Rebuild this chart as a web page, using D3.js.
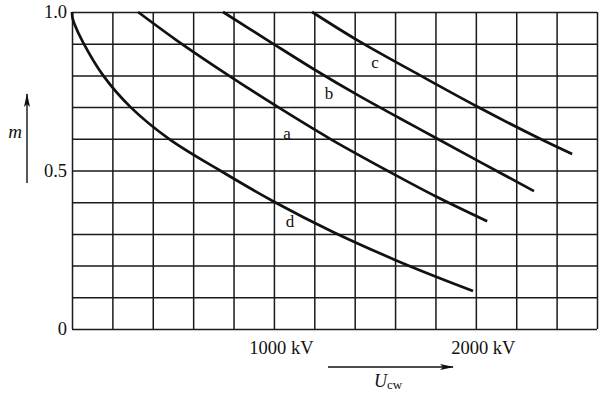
<!DOCTYPE html>
<html>
<head>
<meta charset="utf-8">
<script src="https://cdn.jsdelivr.net/npm/d3@7"></script>
<style>
  body { margin: 0; background: #fff; }
  svg { display: block; font-family: "Liberation Serif", "Times New Roman", serif; }
  .grid line { stroke: #1a1a1a; stroke-width: 1.5; }
  .grid path { display: none; }
  .curve { fill: none; stroke: #111; stroke-width: 2.7; }
</style>
</head>
<body>
<div id="chart"></div>
<script>
// curves: [U_cw in kV, m]
const curveA = [[327, 1.0], [520, 0.91], [773, 0.801], [1015, 0.702], [1278, 0.60], [1575, 0.495],
  [1803, 0.418], [2056, 0.34]];
const curveB = [[748, 1.0], [981, 0.906], [1204, 0.817], [1420, 0.736], [1625, 0.664], [1798, 0.604],
  [2006, 0.532], [2288, 0.435]];
const curveC = [[1189, 1.0], [1421, 0.908], [1724, 0.80], [2006, 0.702], [2318, 0.60], [2477, 0.552]];
const curveD = [[0, 1.0], [3, 0.98], [12, 0.962], [54, 0.905], [154, 0.80], [290, 0.70], [480, 0.60],
  [733, 0.50], [1005, 0.40], [1290, 0.307], [1600, 0.218], [1803, 0.165], [1986, 0.12]];

const curveNames = ["a", "b", "c", "d"];
const labelPos = [[1065, 0.618], [1273, 0.744], [1501, 0.842], [1080, 0.338]];

const xTicks = [1000, 2000];
const xTickLabels = ["1000 kV", "2000 kV"];
const yTicks = [0, 0.5, 1.0];
const yTickLabels = ["0", "0.5", "1.0"];

const margin = {top: 12, right: 3, bottom: 65, left: 72};
const width = 600 - margin.left - margin.right;
const height = 394 - margin.top - margin.bottom;

const svg = d3.select("#chart")
    .append("svg")
    .attr("width", 600)
    .attr("height", 394);

const g = svg.append("g")
    .attr("transform", `translate(${margin.left},${margin.top})`);

const xScale = d3.scaleLinear().domain([0, 2600]).range([0, width]);
const yScale = d3.scaleLinear().domain([0, 1]).range([height, 0]);

// grid, every 200 kV and every 0.1
g.append("g")
    .attr("class", "grid")
    .attr("transform", `translate(0,${height})`)
    .call(d3.axisBottom(xScale).tickValues(d3.range(0, 2601, 200)).tickSize(-height).tickFormat(""));

g.append("g")
    .attr("class", "grid")
    .call(d3.axisLeft(yScale).tickValues(d3.range(0, 11).map(i => i / 10)).tickSize(-width).tickFormat(""));

// tick labels
const xAxis = g.append("g")
    .attr("transform", `translate(0,${height})`)
    .call(d3.axisBottom(xScale).tickValues(xTicks).tickSize(0).tickPadding(12)
        .tickFormat((d, i) => xTickLabels[i]));
xAxis.select(".domain").remove();
xAxis.selectAll("text")
    .attr("dx", 7)
    .style("font-size", "18.5px")
    .style("font-family", "Liberation Serif, serif")
    .attr("fill", "#111");

const yAxis = g.append("g")
    .call(d3.axisLeft(yScale).tickValues(yTicks).tickSize(0).tickPadding(5)
        .tickFormat((d, i) => yTickLabels[i]));
yAxis.select(".domain").remove();
yAxis.selectAll("text")
    .style("font-size", "18.5px")
    .style("font-family", "Liberation Serif, serif")
    .attr("fill", "#111");

// curves
const line = d3.line()
    .x(d => xScale(d[0]))
    .y(d => yScale(d[1]))
    .curve(d3.curveCatmullRom.alpha(0.5));

[curveA, curveB, curveC, curveD].forEach(c => {
    g.append("path")
        .datum(c)
        .attr("class", "curve")
        .attr("d", line);
});

g.selectAll(".clabel")
    .data(curveNames)
    .enter()
    .append("text")
    .attr("class", "clabel")
    .attr("x", (d, i) => xScale(labelPos[i][0]))
    .attr("y", (d, i) => yScale(labelPos[i][1]))
    .attr("text-anchor", "middle")
    .attr("dominant-baseline", "central")
    .style("font-size", "17px")
    .attr("fill", "#111")
    .text(d => d);

// axis arrows and titles
const defs = svg.append("defs");
defs.append("marker")
    .attr("id", "arrow")
    .attr("viewBox", "0 0 14 6")
    .attr("refX", 13)
    .attr("refY", 3)
    .attr("markerWidth", 14)
    .attr("markerHeight", 6)
    .attr("markerUnits", "userSpaceOnUse")
    .attr("orient", "auto")
    .append("path")
    .attr("d", "M0,0 L14,3 L0,6 L3,3 Z")
    .attr("fill", "#111");

svg.append("line")
    .attr("x1", 328).attr("y1", 367)
    .attr("x2", 453).attr("y2", 367)
    .attr("stroke", "#111").attr("stroke-width", 1.4)
    .attr("marker-end", "url(#arrow)");

svg.append("line")
    .attr("x1", 27).attr("y1", 183)
    .attr("x2", 27).attr("y2", 94)
    .attr("stroke", "#111").attr("stroke-width", 1.4)
    .attr("marker-end", "url(#arrow)");

const ucw = svg.append("text")
    .attr("x", 374)
    .attr("y", 387)
    .attr("fill", "#111")
    .style("font-size", "18px");
ucw.append("tspan").style("font-style", "italic").text("U");
ucw.append("tspan").attr("dy", 2).style("font-size", "13px").text("cw");

svg.append("text")
    .attr("x", 15)
    .attr("y", 138)
    .attr("text-anchor", "middle")
    .attr("fill", "#111")
    .style("font-size", "19px")
    .style("font-style", "italic")
    .text("m");
</script>
</body>
</html>
